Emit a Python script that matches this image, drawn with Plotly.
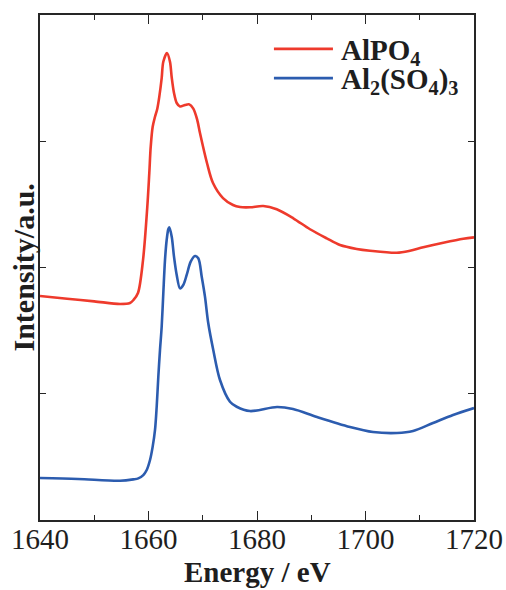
import plotly.graph_objects as go

# Al K-edge XANES spectra (stacked, arbitrary intensity units)
energy_alpo4 = [1640.0, 1645.0, 1650.0, 1654.75, 1656.59, 1657.24, 1658.06, 1658.99,
                1659.78, 1660.15, 1660.41, 1660.77, 1661.20, 1661.62, 1661.99, 1662.43,
                1662.73, 1663.41, 1663.96, 1664.28, 1664.70, 1665.20, 1665.81, 1666.73,
                1667.52, 1668.26, 1668.99, 1669.49, 1670.78, 1671.89, 1673.73, 1675.58,
                1676.87, 1678.71, 1681.16, 1683.63, 1686.69, 1689.77, 1692.85, 1695.30,
                1698.38, 1700.83, 1705.75, 1708.20, 1710.65, 1714.34, 1718.03, 1720.0]
intensity_alpo4 = [1.774, 1.752, 1.732, 1.711, 1.719, 1.743, 1.798, 2.059,
                   2.482, 2.749, 2.957, 3.115, 3.194, 3.258, 3.353, 3.500,
                   3.630, 3.699, 3.630, 3.505, 3.382, 3.303, 3.276, 3.287,
                   3.292, 3.258, 3.168, 3.065, 2.828, 2.669, 2.550, 2.495,
                   2.479, 2.477, 2.487, 2.461, 2.390, 2.303, 2.231, 2.178,
                   2.147, 2.133, 2.117, 2.133, 2.160, 2.196, 2.228, 2.239]

energy_al2so43 = [1640.0, 1647.0, 1654.75, 1657.20, 1658.12, 1659.04, 1659.67, 1660.28,
                  1660.77, 1661.20, 1661.51, 1661.81, 1662.12, 1662.43, 1662.73, 1663.04,
                  1663.35, 1663.65, 1663.83, 1664.28, 1664.70, 1665.20, 1665.81, 1666.41,
                  1667.04, 1667.78, 1668.57, 1669.18, 1669.81, 1670.41, 1671.02, 1671.94,
                  1673.18, 1675.02, 1676.26, 1678.71, 1683.69, 1686.64, 1691.06, 1697.14,
                  1701.38, 1705.81, 1708.76, 1712.44, 1716.13, 1720.0]
intensity_al2so43 = [0.333, 0.325, 0.311, 0.322, 0.330, 0.356, 0.396, 0.475,
                     0.581, 0.713, 0.897, 1.135, 1.347, 1.531, 1.796, 2.059,
                     2.218, 2.303, 2.318, 2.244, 2.086, 1.941, 1.835, 1.861,
                     1.941, 2.046, 2.091, 2.073, 1.927, 1.769, 1.558, 1.347,
                     1.109, 0.937, 0.897, 0.863, 0.895, 0.879, 0.816, 0.737,
                     0.697, 0.689, 0.705, 0.768, 0.832, 0.887]

x_tickvals = [1640, 1660, 1680, 1700, 1720]
y_tickvals = [1, 2, 3]

RED = "#ee3a2c"
BLUE = "#2c5caf"
AXIS = "#262626"
TEXT = "#1e1e1e"
SERIF = "Liberation Serif, Times New Roman, serif"

fig = go.Figure()
fig.add_trace(go.Scatter(x=energy_alpo4, y=intensity_alpo4, mode="lines",
                         line=dict(color=RED, width=2.6, shape="spline", smoothing=0.9),
                         name="AlPO<sub>4</sub>", showlegend=False))
fig.add_trace(go.Scatter(x=energy_al2so43, y=intensity_al2so43, mode="lines",
                         line=dict(color=BLUE, width=2.6, shape="spline", smoothing=0.9),
                         name="Al<sub>2</sub>(SO<sub>4</sub>)<sub>3</sub>", showlegend=False))

# legend drawn as line samples + bold labels in the upper right
legend_items = [("AlPO<sub>4</sub>", RED, 0.933),
                ("Al<sub>2</sub>(SO<sub>4</sub>)<sub>3</sub>", BLUE, 0.875)]
for label, color, ypos in legend_items:
    fig.add_shape(type="line", xref="paper", yref="paper",
                  x0=0.539, x1=0.675, y0=ypos, y1=ypos,
                  line=dict(color=color, width=2.6))
    fig.add_annotation(xref="paper", yref="paper", x=0.69, y=ypos,
                       xanchor="left", yanchor="middle", showarrow=False,
                       text="<b>" + label + "</b>", yshift=-3,
                       font=dict(family=SERIF, size=29, color=TEXT))

fig.add_annotation(xref="paper", yref="paper", x=0, y=0.5, xshift=-17,
                   xanchor="center", yanchor="middle", textangle=-90,
                   showarrow=False, text="<b>Intensity/a.u.</b>",
                   font=dict(family=SERIF, size=30, color=TEXT))
fig.add_annotation(xref="paper", yref="paper", x=0.5, y=0, yshift=-52,
                   xanchor="center", yanchor="middle", showarrow=False,
                   text="<b>Energy / eV</b>",
                   font=dict(family=SERIF, size=29, color=TEXT))

fig.update_xaxes(range=[1640, 1720], tickvals=x_tickvals, automargin=False,
                 ticks="inside", ticklen=9, tickwidth=1.3, tickcolor=AXIS,
                 minor=dict(dtick=10, tick0=1640, ticks="inside", ticklen=5,
                            tickwidth=1.3, tickcolor=AXIS),
                 showline=True, linecolor=AXIS, linewidth=1.6, mirror="allticks",
                 showgrid=False, zeroline=False, ticklabelstandoff=-8,
                 tickfont=dict(family=SERIF, size=29, color=TEXT))
fig.update_yaxes(range=[0, 4], tickvals=y_tickvals, showticklabels=False,
                 automargin=False,
                 ticks="inside", ticklen=6, tickwidth=1.3, tickcolor=AXIS,
                 showline=True, linecolor=AXIS, linewidth=1.6, mirror="allticks",
                 showgrid=False, zeroline=False)

fig.update_layout(width=506, height=590,
                  margin=dict(l=40, r=32, t=15, b=70),
                  paper_bgcolor="white", plot_bgcolor="white",
                  showlegend=False)

fig.write_html("out.html")
